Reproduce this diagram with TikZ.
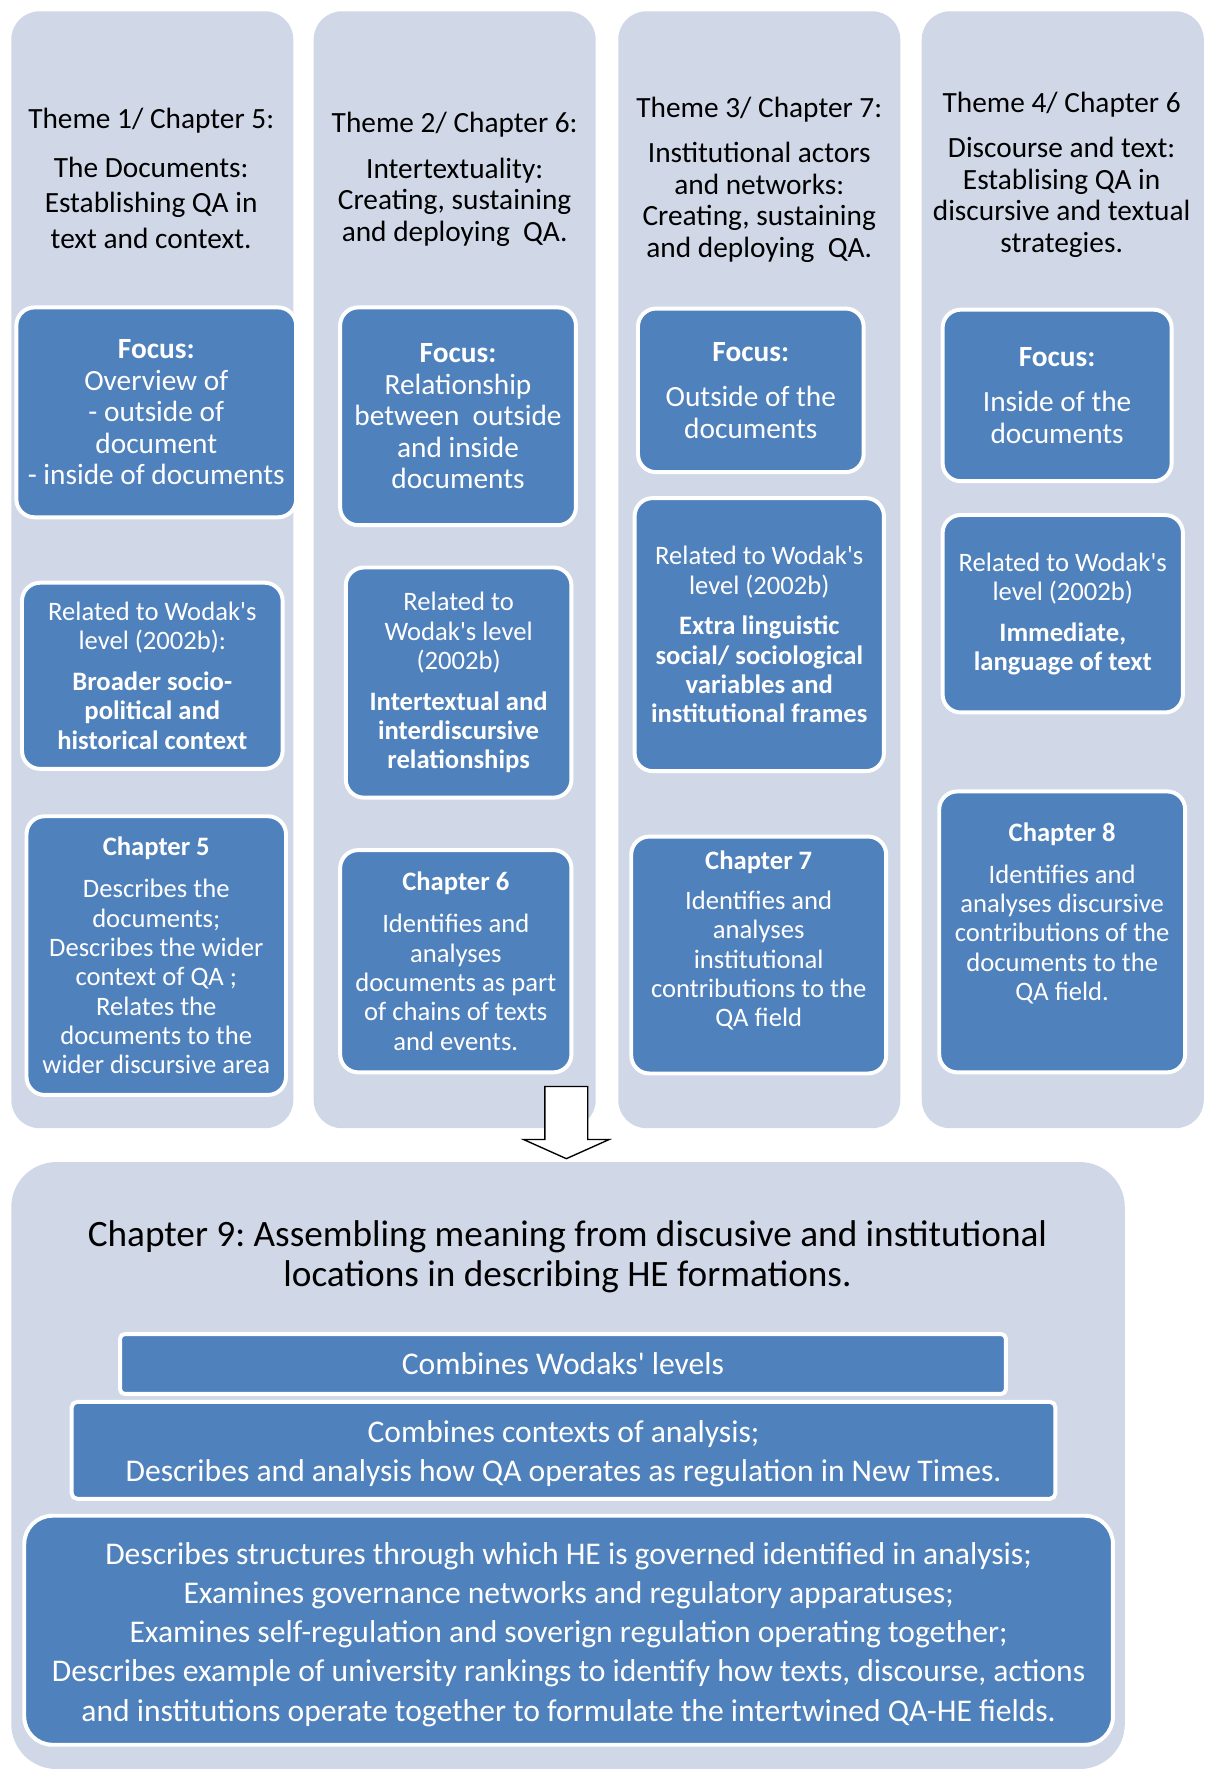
\documentclass[tikz,border=0pt]{standalone}
\usepackage{fontspec}
\setmainfont{Carlito}
\frenchspacing
\definecolor{colbg}{HTML}{D0D8E8}
\definecolor{boxblue}{HTML}{4F81BD}

\begin{document}
\begin{tikzpicture}[x=1pt, y={(0pt,-1pt)},
  themecol/.style={rectangle, rounded corners=25pt, fill=colbg, minimum width=250pt, minimum height=990pt},
  bluebox/.style={rectangle, rounded corners=16pt, fill=boxblue, draw=white, line width=3.5pt, text=white, align=center, inner sep=0pt},
  titletext/.style={align=center, font=\fontsize{26}{28}\selectfont},
  bigtext/.style={font=\fontsize{26}{28}\selectfont},
  smalltext/.style={font=\fontsize{23.6}{26}\selectfont},
  lowtext/.style={font=\fontsize{28}{34.7}\selectfont}]
\useasboundingbox (0,0) rectangle (1073,1568);

\node[themecol] (col1) at (135,505) {};
\node[themecol] (col2) at (403,505) {};
\node[themecol] (col3) at (673,505) {};
\node[themecol] (col4) at (942,505) {};
\node[themecol, rounded corners=40pt, minimum width=987pt, minimum height=538pt] (col9) at (503.5,1299) {};

\node[titletext, font=\fontsize{26}{31.5}\selectfont] (theme1) at (134,158) {Theme 1/ Chapter 5:\\[11.5pt] The Documents:\\ Establishing QA in\\ text and context.};
\node[titletext] (theme2) at (403,159) {Theme 2/ Chapter 6:\\[12pt] Intertextuality:\\ Creating, sustaining\\ and deploying~~QA.};
\node[titletext] (theme3) at (673,159.5) {Theme 3/ Chapter 7:\\[12pt] Institutional actors\\ and networks:\\ Creating, sustaining\\ and deploying~~QA.};
\node[titletext] (theme4) at (941,155) {Theme 4/ Chapter 6\\[12pt] Discourse and text:\\ Establising QA in\\ discursive and textual\\ strategies.};

\node[bluebox, bigtext, minimum width=248pt, minimum height=186pt] (focus1) at (138.5,365.5) {\textbf{Focus:}\\ Overview of\\ - outside of\\ document\\ - inside of documents};
\node[bluebox, bigtext, minimum width=209pt, minimum height=193pt] (focus2) at (406,369) {\textbf{Focus:}\\ Relationship\\ between~~outside\\ and inside\\ documents};
\node[bluebox, bigtext, minimum width=200pt, minimum height=145pt] (focus3) at (665.5,346) {\textbf{Focus:}\\[12pt] Outside of the\\ documents};
\node[bluebox, bigtext, minimum width=203pt, minimum height=152pt] (focus4) at (937,350.5) {\textbf{Focus:}\\[12pt] Inside of the\\ documents};

\node[bluebox, smalltext, minimum width=231pt, minimum height=165pt] (level1) at (135,599) {Related to Wodak\textquotesingle s\\ level (2002b):\\[10pt] \textbf{Broader socio-}\\ \textbf{political and}\\ \textbf{historical context}};
\node[bluebox, smalltext, minimum width=200pt, minimum height=204pt] (level2) at (406.5,605) {Related to\\ Wodak\textquotesingle s level\\ (2002b)\\[10pt] \textbf{Intertextual and}\\ \textbf{interdiscursive}\\ \textbf{relationships}};
\node[bluebox, smalltext, minimum width=221pt, minimum height=242pt] (level3) at (673,562.5) {Related to Wodak\textquotesingle s\\ level (2002b)\\[10pt] \textbf{Extra linguistic}\\ \textbf{social/ sociological}\\ \textbf{variables and}\\ \textbf{institutional frames}};
\node[bluebox, smalltext, minimum width=213pt, minimum height=175pt] (level4) at (942,544) {Related to Wodak\textquotesingle s\\ level (2002b)\\[10pt] \textbf{Immediate,}\\ \textbf{language of text}};

\node[bluebox, smalltext, minimum width=230pt, minimum height=247pt] (chap5) at (138.5,847) {\textbf{Chapter 5}\\[11pt] Describes the\\ documents;\\ Describes the wider\\ context of QA ;\\ Relates the\\ documents to the\\ wider discursive area};
\node[bluebox, smalltext, minimum width=205pt, minimum height=197pt] (chap6) at (404,852) {\textbf{Chapter 6}\\[11pt] Identifies and\\ analyses\\ documents as part\\ of chains of texts\\ and events.};
\node[bluebox, smalltext, minimum width=226pt, minimum height=210pt] (chap7) at (672.5,846.5) {\textbf{Chapter 7}\\[10pt] Identifies and\\ analyses\\ institutional\\ contributions to the\\ QA field\rule[-29pt]{0pt}{0pt}};
\node[bluebox, smalltext, minimum width=218pt, minimum height=249pt] (chap8) at (941.5,826) {\textbf{Chapter 8}\\[11pt] Identifies and\\ analyses discursive\\ contributions of the\\ documents to the\\ QA field.\rule[-36pt]{0pt}{0pt}};

\coordinate (arrtop) at (502,963);
\draw[line width=1.2pt, fill=white] ([xshift=-19pt]arrtop) -- ([xshift=19pt]arrtop) -- ++(0,47) -- ++(19,0) -- ++(-38,17) -- ++(-38,-17) -- ++(19,0) -- cycle;

\node[align=center, font=\fontsize{33}{36}\selectfont] (chap9) at (503,1114) {Chapter 9: Assembling meaning from discusive and institutional\\ locations in describing HE formations.};
\node[bluebox, lowtext, rounded corners=4pt, minimum width=785pt, minimum height=53pt] (combine) at (499,1209) {Combines Wodaks\textquotesingle{} levels};
\node[bluebox, lowtext, rounded corners=5pt, minimum width=872pt, minimum height=86pt] (contexts) at (499.5,1285.5) {\rule{0pt}{25pt}Combines contexts of analysis;\\ Describes and analysis how QA operates as regulation in New Times.};
\node[bluebox, lowtext, rounded corners=25pt, minimum width=965pt, minimum height=203pt] (structures) at (504,1445) {\rule{0pt}{27pt}Describes structures through which HE is governed identified in analysis;\\ Examines governance networks and regulatory apparatuses;\\ Examines self-regulation and soverign regulation operating together;\\ Describes example of university rankings to identify how texts, discourse, actions\\ and institutions operate together to formulate the intertwined QA-HE fields.};
\end{tikzpicture}
\end{document}
